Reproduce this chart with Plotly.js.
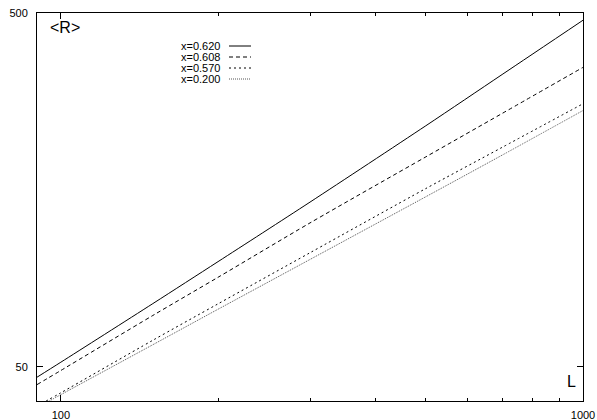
<!DOCTYPE html>
<html>
<head>
<meta charset="utf-8">
<script src="https://cdn.plot.ly/plotly-3.0.1.min.js"></script>
<style>html,body{margin:0;padding:0;background:#fff;}#chart{width:597px;height:420px;}</style>
</head>
<body>
<div id="chart"></div>
<script>
// System sizes L
const L = [90, 100, 150, 200, 300, 500, 700, 1000];
// <R> for each x value
const R_0620 = [46.7, 51.5, 75.4, 99.1, 146, 240, 335, 477];
const R_0608 = [44.5, 48.8, 69.8, 89.5, 127.5, 196, 260, 351];
const R_0570 = [38.7, 42.2, 59.4, 75.3, 105, 159.5, 208.5, 277];
const R_0200 = [38.3, 41.7, 57.7, 72.7, 100.5, 151.2, 198.2, 265];
const seriesNames = ["x=0.620", "x=0.608", "x=0.570", "x=0.200"];
const xTicks = [100, 1000];
const xMinor = [200, 300, 400, 500, 600, 700, 800, 900];
const yTicks = [50, 500];

const styles = [
  {color: '#000', width: 1, dash: 'solid'},
  {color: '#000', width: 1, dash: '4px,3px'},
  {color: '#000', width: 1, dash: '2px,3px'},
  {color: '#555', width: 1, dash: '1px,1px'}
];
const series = [R_0620, R_0608, R_0570, R_0200];

const traces = series.map((ys, i) => ({
  x: L, y: ys, type: 'scatter', mode: 'lines', name: seriesNames[i],
  line: Object.assign({shape: 'spline', smoothing: 0.8}, styles[i]), showlegend: false, hoverinfo: 'skip'
}));

const W = 597, H = 420, ml = 37, mr = 14, mt = 13, mb = 19;
const pw = W - ml - mr, ph = H - mt - mb;
const px = v => (v - ml) / pw;
const py = v => (H - mb - v) / ph;

const annotations = [
  {text: '&lt;R&gt;', xref: 'paper', yref: 'paper', x: px(48), y: py(28), xanchor: 'left', yanchor: 'middle', showarrow: false, font: {size: 16, color: '#000'}},
  {text: 'L', xref: 'paper', yref: 'paper', x: px(578), y: py(381), xanchor: 'right', yanchor: 'middle', showarrow: false, font: {size: 16, color: '#000'}}
];
const shapes = [];
const rowY = [46, 57, 68, 79];
seriesNames.forEach((n, i) => {
  annotations.push({text: n, xref: 'paper', yref: 'paper', x: px(222), y: py(rowY[i]), xanchor: 'right', yanchor: 'middle', showarrow: false, font: {size: 11, color: '#000'}});
  shapes.push({type: 'line', xref: 'paper', yref: 'paper', x0: px(229), x1: px(251), y0: py(rowY[i]), y1: py(rowY[i]), line: styles[i]});
});

const layout = {
  width: W, height: H,
  margin: {l: ml, r: mr, t: mt, b: mb, pad: 0},
  paper_bgcolor: '#fff', plot_bgcolor: '#fff',
  font: {family: 'Liberation Sans, Arial, sans-serif', size: 11, color: '#000'},
  showlegend: false,
  xaxis: {
    type: 'log', range: [Math.log10(90), 3],
    tickvals: xTicks, ticktext: xTicks.map(String),
    ticks: 'inside', ticklen: 6, tickcolor: '#000', tickwidth: 1,
    showline: true, linecolor: '#000', linewidth: 1, mirror: 'ticks',
    showgrid: false, zeroline: false, ticklabelstandoff: 4,
    minor: {tickvals: xMinor, ticks: 'inside', ticklen: 3, tickcolor: '#000', showgrid: false},
    tickfont: {size: 11, color: '#000'}
  },
  yaxis: {
    type: 'log', range: [Math.log10(40), Math.log10(500)],
    tickvals: yTicks, ticktext: yTicks.map(String),
    ticks: 'inside', ticklen: 6, tickcolor: '#000', tickwidth: 1,
    showline: true, linecolor: '#000', linewidth: 1, mirror: 'ticks',
    showgrid: false, zeroline: false, ticklabelstandoff: 6,
    tickfont: {size: 11, color: '#000'}
  },
  annotations: annotations,
  shapes: shapes
};

Plotly.newPlot('chart', traces, layout, {displayModeBar: false, staticPlot: true});
</script>
</body>
</html>
